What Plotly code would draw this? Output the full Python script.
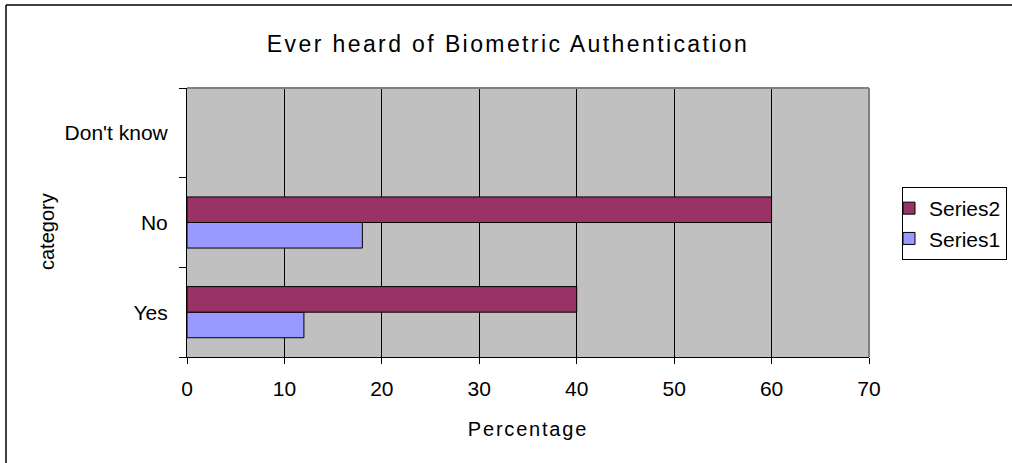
import plotly.graph_objects as go

categories = ["Yes", "No", "Don't know"]
series1 = [12, 18, None]
series2 = [40, 60, None]
x_ticks = [0, 10, 20, 30, 40, 50, 60, 70]

W, H = 1012, 463
L, R, T, B = 187, 143, 88, 106
PW, PH = W - L - R, H - T - B

def px_x(p):
    return (p - L) / PW

def px_y(p):
    return (H - B - p) / PH

fig = go.Figure()
fig.add_trace(go.Bar(
    name="Series1", y=categories, x=series1, orientation="h",
    marker=dict(color="#9999FF", line=dict(color="black", width=1)),
))
fig.add_trace(go.Bar(
    name="Series2", y=categories, x=series2, orientation="h",
    marker=dict(color="#993366", line=dict(color="black", width=1)),
))

font_family = "Liberation Sans, Arial, sans-serif"

fig.update_layout(
    width=W, height=H,
    margin=dict(l=L, r=R, t=T, b=B, pad=0, autoexpand=False),
    paper_bgcolor="white",
    plot_bgcolor="#C0C0C0",
    barmode="group",
    bargap=0.43,
    bargroupgap=0,
    font=dict(family=font_family, size=21, color="black"),
    title=dict(
        text="Ever heard of Biometric Authentication",
        font=dict(family=font_family, size=23, color="black"),
        xref="container", x=0.502, xanchor="center",
        yref="container", y=(H - 44) / H, yanchor="middle",
    ),
    legend=dict(
        x=px_x(902), y=px_y(187), xanchor="left", yanchor="top",
        bordercolor="black", borderwidth=1, bgcolor="white",
        font=dict(family=font_family, size=21, color="black"),
        traceorder="reversed",
        indentation=-14,
    ),
    showlegend=True,
)

fig.update_xaxes(
    range=[0, 70], tickvals=x_ticks, ticktext=[str(v) for v in x_ticks],
    showgrid=True, gridcolor="black", gridwidth=1,
    zeroline=False,
    showline=True, linecolor="black", linewidth=1,
    ticks="outside", ticklen=6, tickcolor="black", tickwidth=1,
    ticklabelstandoff=7,
    tickfont=dict(size=21),
    title=dict(text="Percentage", font=dict(size=20), standoff=22),
)
fig.update_yaxes(
    type="category", categoryorder="array", categoryarray=categories,
    range=[-0.5, 2.5],
    showgrid=False, zeroline=False,
    showline=True, linecolor="black", linewidth=1,
    ticks="outside", tickson="boundaries", ticklen=7, tickcolor="black", tickwidth=1,
    ticklabelstandoff=14,
    tickfont=dict(size=21),
)

fig.add_annotation(
    text="category", textangle=-90, showarrow=False,
    xref="paper", yref="paper", x=px_x(47), y=px_y(232),
    xanchor="center", yanchor="middle",
    font=dict(family=font_family, size=20, color="black"),
)

# plot-area border (top and right, grey)
fig.add_shape(type="line", xref="paper", yref="paper", x0=0, x1=1, y0=1, y1=1,
              line=dict(color="#808080", width=2))
fig.add_shape(type="line", xref="paper", yref="paper", x0=1, x1=1, y0=0, y1=1,
              line=dict(color="#808080", width=2))
# chart frame (top and left edges visible)
fig.add_shape(type="line", xref="paper", yref="paper",
              x0=px_x(6), x1=px_x(W + 20), y0=px_y(5), y1=px_y(5),
              line=dict(color="black", width=1.5))
fig.add_shape(type="line", xref="paper", yref="paper",
              x0=px_x(6), x1=px_x(6), y0=px_y(5), y1=px_y(H + 20),
              line=dict(color="black", width=1.5))

post = ("var s=document.createElement('style');"
        "s.textContent='html,body{margin:0;padding:0;overflow:hidden;background:#ffffff}.gtitle{letter-spacing:2.4px}.xtitle{letter-spacing:1.8px}';"
        "document.head.appendChild(s);")
fig.write_html("out.html", post_script=post, config={"displayModeBar": False})
